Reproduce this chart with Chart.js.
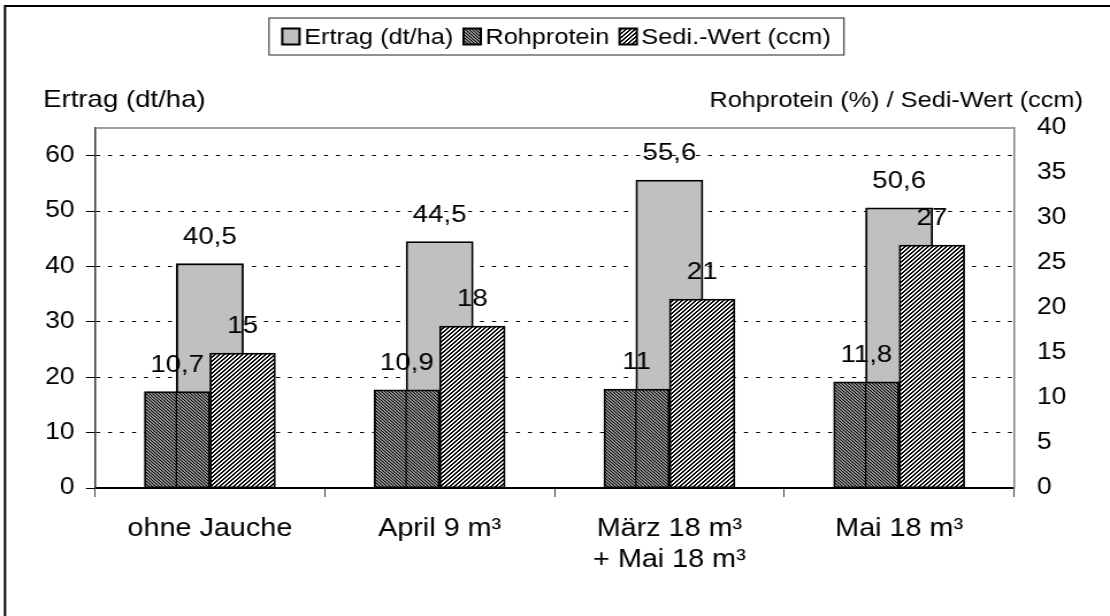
<!DOCTYPE html>
<html><head><meta charset="utf-8">
<script src="https://cdn.jsdelivr.net/npm/chart.js@4.4.1/dist/chart.umd.min.js"></script>
<style>html,body{margin:0;padding:0;background:#fff;overflow:hidden}
#c{display:block;width:1110px !important;height:616px !important}</style>
</head><body>
<canvas id="c" width="965" height="616" style="width:1110px;height:616px"></canvas>
<script>
// ---- data ----
const categories = [['ohne Jauche'], ['April 9 m³'], ['März 18 m³', '+ Mai 18 m³'], ['Mai 18 m³']];
const ertrag = [40.5, 44.5, 55.6, 50.6];
const rohprotein = [10.7, 10.9, 11, 11.8];
const sediWert = [15, 18, 21, 27];
const seriesNames = ['Ertrag (dt/ha)', 'Rohprotein', 'Sedi.-Wert (ccm)'];
const leftTitle = 'Ertrag (dt/ha)';
const rightTitle = 'Rohprotein (%) / Sedi-Wert (ccm)';
const leftMax = 65, leftStep = 10, leftTickMax = 60;
const rightMax = 40, rightStep = 5;

// ---- layout (horizontal stretch of the whole canvas) ----
const S = 1110 / 965;
const W = 965, H = 616;
const FONT = '"Liberation Sans", Arial, sans-serif';

function makePattern(fn, size, bg) {
  const c = document.createElement('canvas');
  c.width = size; c.height = size;
  const g = c.getContext('2d');
  g.fillStyle = bg; g.fillRect(0, 0, size, size);
  g.fillStyle = '#000';
  for (let y = 0; y < size; y++) for (let x = 0; x < size; x++) if (fn(x, y)) g.fillRect(x, y, 1, 1);
  return document.getElementById('c').getContext('2d').createPattern(c, 'repeat');
}
const patRoh = makePattern((x, y) => ((x - y + 12) % 3) === 0, 6, '#8e8e8e');
const patSedi = makePattern((x, y) => ((x + y) % 4) < 2, 4, '#ffffff');
const fills = ['#c0c0c0', patRoh, patSedi];

const fmt = v => String(v).replace('.', ',');

const extras = {
  id: 'extras',
  beforeDraw(chart) {
    const ctx = chart.ctx;
    ctx.save();
    ctx.fillStyle = '#fff'; ctx.fillRect(0, 0, W, H);
    ctx.restore();
  },
  afterDatasetsDraw(chart) {
    const ctx = chart.ctx;
    const m0 = chart.getDatasetMeta(0), m1 = chart.getDatasetMeta(1);
    ctx.save();
    // Ertrag left edge visible through Rohprotein bar
    ctx.strokeStyle = '#000'; ctx.lineWidth = 1.2;
    m0.data.forEach((el, j) => {
      const r = m1.data[j];
      const lx = el.x - el.width / 2;
      ctx.beginPath(); ctx.moveTo(lx, r.y); ctx.lineTo(lx, r.base); ctx.stroke();
    });
    // data labels
    ctx.font = '24px ' + FONT; ctx.fillStyle = '#000';
    ctx.textAlign = 'center'; ctx.textBaseline = 'alphabetic';
    chart.data.datasets.forEach((ds, i) => {
      chart.getDatasetMeta(i).data.forEach((el, j) => {
        ctx.fillText(fmt(ds.data[j]), el.x, el.y - 20);
      });
    });
    ctx.restore();
  },
  afterDraw(chart) {
    const ctx = chart.ctx, a = chart.chartArea;
    ctx.save();
    // plot top border
    ctx.strokeStyle = '#808080'; ctx.lineWidth = 1.5;
    ctx.beginPath(); ctx.moveTo(a.left, a.top); ctx.lineTo(a.right, a.top); ctx.stroke();
    // outer frame (top & left visible)
    ctx.strokeStyle = '#000'; ctx.lineWidth = 2;
    ctx.beginPath(); ctx.moveTo(5 / S, H + 5); ctx.lineTo(5 / S, 6); ctx.lineTo(W + 5, 6); ctx.stroke();
    // axis titles
    ctx.fillStyle = '#000'; ctx.textBaseline = 'alphabetic';
    ctx.font = '24px ' + FONT; ctx.textAlign = 'left'; ctx.fillText(leftTitle, 43 / S, 107);
    ctx.font = '22px ' + FONT; ctx.textAlign = 'right'; ctx.fillText(rightTitle, 1083 / S, 107);
    // legend
    const bx1 = 269 / S, bx2 = 844 / S, by1 = 18, by2 = 55;
    ctx.fillStyle = '#fff'; ctx.fillRect(bx1, by1, bx2 - bx1, by2 - by1);
    ctx.strokeStyle = '#222'; ctx.lineWidth = 1;
    ctx.strokeRect(bx1, by1, bx2 - bx1, by2 - by1);
    ctx.font = '22px ' + FONT;
    const sw = 15, sh = 16, gapT = 4, gapI = 9;
    const widths = seriesNames.map(n => ctx.measureText(n).width);
    const total = widths.reduce((s, w) => s + w + sw + gapT, 0) + gapI * (seriesNames.length - 1);
    let x = (bx1 + bx2) / 2 - total / 2;
    const cy = (by1 + by2) / 2;
    seriesNames.forEach((n, i) => {
      ctx.fillStyle = fills[i];
      ctx.fillRect(x, cy - sh / 2, sw, sh);
      ctx.strokeStyle = '#000'; ctx.lineWidth = 2;
      ctx.strokeRect(x, cy - sh / 2, sw, sh);
      x += sw + gapT;
      ctx.fillStyle = '#000'; ctx.textAlign = 'left'; ctx.textBaseline = 'middle';
      ctx.fillText(n, x, cy + 1);
      x += widths[i] + gapI;
    });
    ctx.restore();
  }
};

new Chart(document.getElementById('c'), {
  type: 'bar',
  data: {
    labels: categories,
    datasets: [
      { label: seriesNames[0], data: ertrag, xAxisID: 'x', yAxisID: 'y', backgroundColor: fills[0],
        borderColor: '#000', borderWidth: 1.8, borderSkipped: false, grouped: false, barThickness: 67 / S, order: 2 },
      { label: seriesNames[1], data: rohprotein, xAxisID: 'x', yAxisID: 'y2', backgroundColor: fills[1],
        borderColor: '#000', borderWidth: 1.8, borderSkipped: false, barThickness: 65.5 / S, order: 0 },
      { label: seriesNames[2], data: sediWert, xAxisID: 'x', yAxisID: 'y2', backgroundColor: fills[2],
        borderColor: '#000', borderWidth: 1.8, borderSkipped: false, barThickness: 65.5 / S, order: 1 }
    ]
  },
  plugins: [extras],
  options: {
    responsive: false, animation: false, devicePixelRatio: 1,
    layout: { padding: { top: 128, left: 0, right: 0, bottom: 0 } },
    plugins: { legend: { display: false }, tooltip: { enabled: false } },
    scales: {
      x: {
        type: 'category', position: 'bottom', offset: true,
        grid: { offset: true, drawOnChartArea: false, tickLength: 9, color: '#444', lineWidth: 1 },
        border: { color: '#000', width: 2 },
        ticks: { font: { family: FONT, size: 25, lineHeight: 1.22 }, color: '#000', padding: 17, autoSkip: false, maxRotation: 0 },
        afterFit: s => { s.height = H - 488; }
      },
      y: {
        position: 'left', min: 0, max: leftMax,
        afterBuildTicks: s => { s.ticks = s.ticks.filter(t => t.value <= leftTickMax); },
        ticks: { stepSize: leftStep, font: { family: FONT, size: 23 }, color: '#000', padding: 10 },
        grid: { color: '#000', lineWidth: 1, tickLength: 9 / S, tickColor: '#000', tickBorderDash: [] },
        border: { color: '#333', width: 1.5, dash: [4 / S, 8 / S] },
        afterFit: s => { s.width = 95 / S; }
      },
      y2: {
        position: 'right', min: 0, max: rightMax,
        ticks: { stepSize: rightStep, font: { family: FONT, size: 23 }, color: '#000', padding: 20 },
        grid: { display: false, drawTicks: false },
        border: { color: '#808080', width: 1.5 },
        afterFit: s => { s.width = W - 1014 / S; }
      }
    }
  }
});
</script>
</body></html>
